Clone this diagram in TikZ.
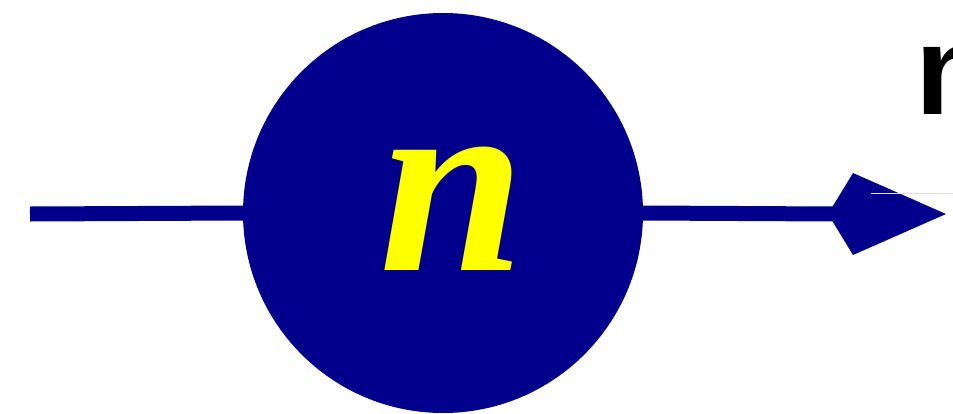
\documentclass[tikz,border=0pt]{standalone}
\usepackage{fontspec}
\newfontfamily\serifbi{Liberation Serif}
\newfontfamily\sansb{Liberation Sans}
\definecolor{navy}{RGB}{0,0,140}
\definecolor{yel}{RGB}{255,255,0}
\begin{document}
\begin{tikzpicture}[x=1pt,y=-1pt,
  wire/.style={draw=navy,line width=15pt},
  ball/.style={circle,fill=navy,minimum size=400pt,inner sep=0pt}]
\useasboundingbox (0,0) rectangle (953,413);
\clip (0,0) rectangle (953,413);
\coordinate (s) at (30,214);
\node[ball] (c) at (443,213) {};
\node[text=yel,font=\serifbi\bfseries\itshape\fontsize{262}{262}\selectfont] (lab) at (452,209) {n};
\coordinate (b) at (835,214);
\draw[wire] (s) -- (c.west);
\draw[wire] (c.east) -- (b);
\coordinate (t) at (946,214);
\fill[navy] (828,214) -- (853,173) -- (t) -- (853,255) -- cycle;
\coordinate (g1) at (871,193);
\coordinate (g2) at (953,193);
\draw[gray!25,line width=1pt] (g1) -- (g2);
\node[anchor=base west,inner sep=0pt,font=\sansb\bfseries\fontsize{127}{127}\selectfont] (m) at (915,114) {n};
\end{tikzpicture}
\end{document}
